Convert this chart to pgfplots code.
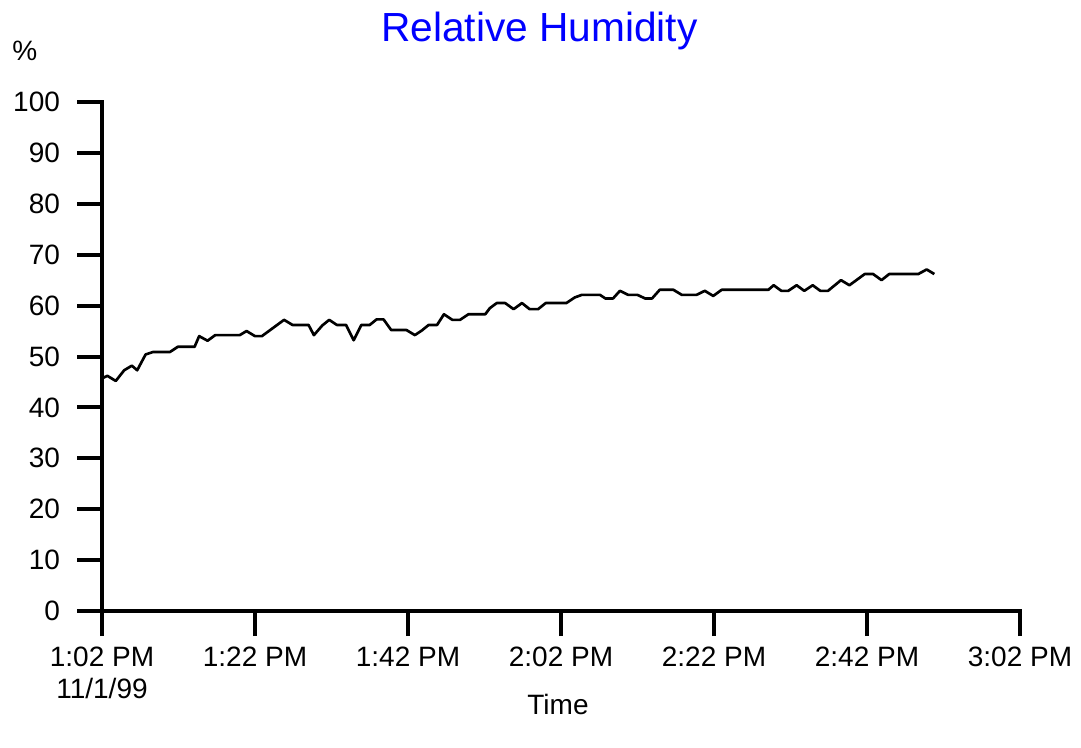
\documentclass[border=0pt]{standalone}
\usepackage{fontspec}
\setmainfont{Liberation Sans}
\usepackage{pgfplots}
\pgfplotsset{compat=1.18}
\pgfplotstableread{
m rh
0 45.7
0.7 46.2
1.8 45.2
2.9 47.3
3.9 48.2
4.6 47.3
5.7 50.4
6.7 50.9
8.9 50.9
9.9 51.9
12.1 51.9
12.7 54.0
13.8 53.1
14.8 54.2
18.0 54.2
18.9 55.0
20.0 54.0
20.9 54.0
23.8 57.2
24.9 56.2
27.0 56.2
27.7 54.2
28.8 56.1
29.7 57.2
30.7 56.2
31.9 56.2
32.9 53.2
33.9 56.2
35.0 56.2
35.9 57.3
36.8 57.3
37.8 55.2
39.8 55.2
40.9 54.2
41.8 55.1
42.7 56.2
43.8 56.2
44.7 58.3
45.8 57.2
46.8 57.2
47.9 58.3
50.1 58.3
50.7 59.5
51.6 60.5
52.7 60.5
53.8 59.3
54.9 60.5
55.9 59.3
57.0 59.3
58.0 60.5
60.7 60.5
61.8 61.6
62.7 62.1
65.1 62.1
65.8 61.4
66.8 61.4
67.7 62.9
68.8 62.1
70.0 62.1
71.0 61.4
71.9 61.4
72.9 63.1
74.7 63.1
75.8 62.1
77.7 62.1
78.8 62.9
79.9 61.9
81.0 63.1
87.1 63.1
87.8 64.0
88.8 62.9
89.7 62.9
90.8 64.0
91.8 62.9
92.9 64.0
93.9 62.9
94.9 62.9
96.6 65.0
97.7 64.0
99.7 66.2
100.8 66.2
101.9 65.0
102.9 66.2
106.7 66.2
107.8 67.1
108.8 66.2
}\rhdata
\begin{document}
\begin{tikzpicture}
\path[use as bounding box] (0,0) rectangle (810.75pt,560.25pt);
\begin{axis}[
  at={(76.5pt,102pt)}, anchor=origin,
  scale only axis,
  width=688.5pt, height=381.75pt,
  xmin=0, xmax=120, ymin=0, ymax=100,
  axis lines=left,
  axis line style={-, line width=3pt, line cap=rect},
  tick align=outside,
  major tick length=18.75pt,
  every tick/.style={black, line width=3pt},
  xtick={0,20,40,60,80,100,120},
  xticklabels={{1:02 PM\\11/1/99},1:22 PM,1:42 PM,2:02 PM,2:22 PM,2:42 PM,3:02 PM},
  ytick={0,10,...,100},
  /pgf/number format/assume math mode=true,
  tick label style={font=\fontsize{21}{24}\selectfont},
  xticklabel style={align=center, anchor=north, yshift=-5pt},
  yticklabel style={anchor=east, xshift=-9.25pt},
  clip=false,
]
\addplot[black, line width=2pt, line join=round] table[x=m, y=rh] {\rhdata};
\end{axis}
\node[anchor=base, text=blue, font=\fontsize{30.5}{30}\selectfont] at (404.6pt,528.75pt) {Relative Humidity};
\node[anchor=base west, inner sep=0pt, font=\fontsize{21}{21}\selectfont] at (9pt,514.5pt) {\%};
\node[anchor=base, inner sep=0pt, font=\fontsize{21}{21}\selectfont] at (418.5pt,24.75pt) {Time};
\end{tikzpicture}
\end{document}
